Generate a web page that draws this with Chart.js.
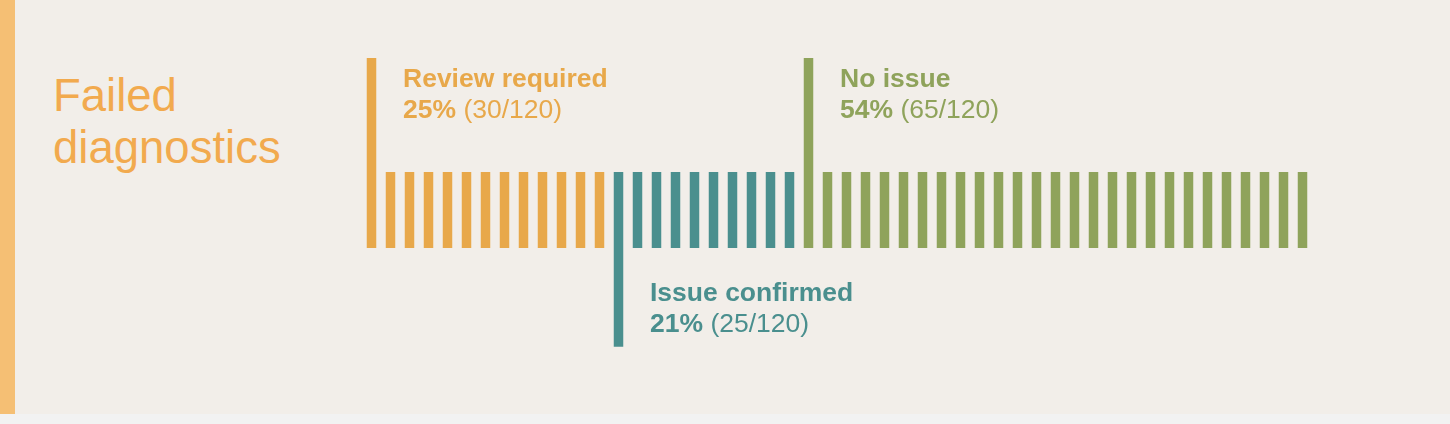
<!DOCTYPE html>
<html>
<head>
<meta charset="utf-8">
<script src="https://cdn.jsdelivr.net/npm/chart.js@4/dist/chart.umd.min.js"></script>
<style>
  body { margin: 0; background: #F2F2F2; width: 1450px; height: 424px; overflow: hidden; font-family: "Liberation Sans", Arial, Helvetica, sans-serif; }
  .panel { position: absolute; left: 0; top: 0; width: 1435px; height: 414px; background: #F2EEE9; border-left: 15px solid #F5BF74; }
  .title { position: absolute; left: 53px; top: 70px; font-size: 45.5px; line-height: 52px; color: #F2AA4E; }
  #chart { position: absolute; left: 0; top: 0; }
</style>
</head>
<body>
<div class="panel"></div>
<div class="title">Failed<br>diagnostics</div>
<canvas id="chart" width="1450" height="424"></canvas>
<script>
// data
const categories = ['Review required', 'Issue confirmed', 'No issue'];
const counts = [30, 25, 65];
const total = 120;
const stripeCount = 50;
const colors = ['#E8A84A', '#4A8F8E', '#8FA35B'];

// build stripes, first stripe of each group carries the leader line
const stripeLabels = [];
const stripeData = [];
const stripeColors = [];
const firstIndex = [];
categories.forEach((cat, g) => {
  const n = Math.round(counts[g] / total * stripeCount);
  firstIndex.push(stripeData.length);
  for (let k = 0; k < n; k++) {
    stripeLabels.push(cat + ' ' + (k + 1));
    let bar = [-1, 1];
    if (k === 0) bar = (g % 2 === 0) ? [-1, 4] : [-3.6, 1];
    stripeData.push(bar);
    stripeColors.push(colors[g]);
  }
});

const labelPlugin = {
  id: 'groupLabels',
  afterDatasetsDraw(chart) {
    const ctx = chart.ctx;
    const xs = chart.scales.x, ys = chart.scales.y;
    ctx.save();
    ctx.textBaseline = 'alphabetic';
    ctx.textAlign = 'left';
    categories.forEach((cat, g) => {
      const x = xs.getPixelForValue(firstIndex[g]) + 31.5;
      let y1;
      if (g % 2 === 0) y1 = ys.getPixelForValue(4) + 29;
      else y1 = ys.getPixelForValue(-1) + 53;
      const y2 = y1 + 31;
      ctx.fillStyle = colors[g];
      ctx.font = 'bold 26.5px "Liberation Sans", Arial, sans-serif';
      ctx.fillText(cat, x, y1);
      const pct = Math.round(counts[g] / total * 100) + '%';
      ctx.fillText(pct, x, y2);
      const w = ctx.measureText(pct + ' ').width;
      ctx.font = '26.5px "Liberation Sans", Arial, sans-serif';
      ctx.fillText('(' + counts[g] + '/' + total + ')', x + w, y2);
    });
    ctx.restore();
  }
};

new Chart(document.getElementById('chart'), {
  type: 'bar',
  data: {
    labels: stripeLabels,
    datasets: [{
      data: stripeData,
      backgroundColor: stripeColors,
      borderWidth: 0,
      barPercentage: 0.5,
      categoryPercentage: 1
    }]
  },
  options: {
    responsive: false,
    animation: false,
    devicePixelRatio: 1,
    layout: { padding: { left: 362, right: 138, top: 20, bottom: 24 } },
    scales: {
      x: { display: false },
      y: { display: false, min: -5, max: 5 }
    },
    plugins: {
      legend: { display: false },
      tooltip: { enabled: false }
    }
  },
  plugins: [labelPlugin]
});
</script>
</body>
</html>
